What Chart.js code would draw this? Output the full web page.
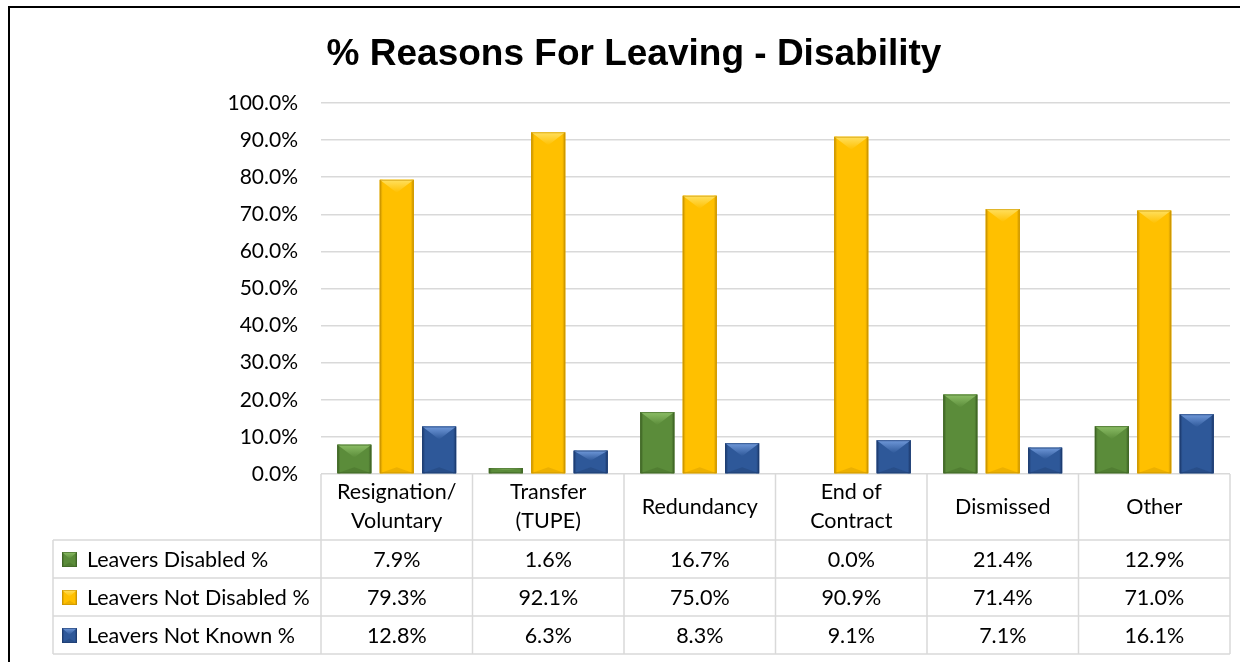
<!DOCTYPE html>
<html>
<head>
<meta charset="utf-8">
<script src="https://cdn.jsdelivr.net/npm/chart.js@4/dist/chart.umd.min.js"></script>
<style>
  html, body { margin: 0; padding: 0; background: #fff; }
  canvas { display: block; }
</style>
</head>
<body>
<canvas id="c" width="1240" height="662"></canvas>
<script>
// Reasons for leaving, split by disability status (percent of leavers)
const categories = [["Resignation/", "Voluntary"], ["Transfer", "(TUPE)"], ["Redundancy"], ["End of", "Contract"], ["Dismissed"], ["Other"]];
const seriesNames = ["Leavers Disabled %", "Leavers Not Disabled %", "Leavers Not Known %"];
const leaversDisabled = [7.9, 1.6, 16.7, 0.0, 21.4, 12.9];
const leaversNotDisabled = [79.3, 92.1, 75.0, 90.9, 71.4, 71.0];
const leaversNotKnown = [12.8, 6.3, 8.3, 9.1, 7.1, 16.1];
const yTickValues = [0, 10, 20, 30, 40, 50, 60, 70, 80, 90, 100];

// Colour sets per series: base, light bevel, dark edge
const palette = [
  { base: "#5B8C3A", light: "#8CBE66", dark: "#3E6325" },
  { base: "#FFC000", light: "#FFE060", dark: "#C89200" },
  { base: "#2E5899", light: "#7099DA", dark: "#1D3B6E" }
];

const FONT = "Lato, 'Open Sans', sans-serif";
const GRID = "#d9d9d9";

function bevelBox(ctx, left, top, w, h, col) {
  const right = left + w, bottom = top + h, cx = left + w / 2;
  ctx.save();
  ctx.fillStyle = col.base;
  ctx.fillRect(left, top, w, h);
  // darker side strips
  const s = Math.min(3, w / 6);
  let g = ctx.createLinearGradient(left, 0, left + s, 0);
  g.addColorStop(0, col.dark); g.addColorStop(1, col.base);
  ctx.fillStyle = g; ctx.fillRect(left, top, s, h);
  g = ctx.createLinearGradient(right - s, 0, right, 0);
  g.addColorStop(0, col.base); g.addColorStop(1, col.dark);
  ctx.fillStyle = g; ctx.fillRect(right - s, top, s, h);
  // bottom darker wedge
  const db = Math.min(h * 0.3, 6);
  ctx.globalAlpha = 0.35;
  ctx.fillStyle = col.dark;
  ctx.beginPath(); ctx.moveTo(left, bottom); ctx.lineTo(right, bottom); ctx.lineTo(cx, bottom - db); ctx.closePath(); ctx.fill();
  ctx.globalAlpha = 1;
  // lighter top wedge
  const d = Math.min(h * 0.45, 13);
  g = ctx.createLinearGradient(0, top, 0, top + d);
  g.addColorStop(0, col.light); g.addColorStop(1, col.base);
  ctx.fillStyle = g;
  ctx.beginPath(); ctx.moveTo(left, top); ctx.lineTo(right, top); ctx.lineTo(cx, top + d); ctx.closePath(); ctx.fill();
  // outline
  ctx.strokeStyle = col.dark; ctx.globalAlpha = 0.6; ctx.lineWidth = 1;
  ctx.strokeRect(left + 0.5, top + 0.5, w - 1, h - 1);
  ctx.restore();
}

const bevelPlugin = {
  id: "bevelBars",
  afterDatasetsDraw(chart) {
    const ctx = chart.ctx;
    chart.getSortedVisibleDatasetMetas().forEach(meta => {
      const col = palette[meta.index];
      meta.data.forEach(el => {
        const p = el.getProps(["x", "y", "base", "width"], true);
        const h = p.base - p.y;
        if (h < 1) return;
        bevelBox(ctx, p.x - p.width / 2, p.y, p.width, h, col);
      });
    });
  }
};

const frameAndTablePlugin = {
  id: "frameAndTable",
  afterDraw(chart) {
    const ctx = chart.ctx;
    const xs = chart.scales.x;
    const area = chart.chartArea;
    const n = categories.length;
    const colW = (area.right - area.left) / n;
    const top = area.bottom;
    const headerH = 66, rowH = 38;
    const legendLeft = 53;
    const rowsTop = top + headerH;
    const tableBottom = rowsTop + rowH * seriesNames.length;

    ctx.save();
    // title
    ctx.fillStyle = "#000";
    ctx.font = "bold 37px 'Liberation Sans', Arial, sans-serif";
    ctx.textAlign = "center";
    ctx.textBaseline = "alphabetic";
    ctx.fillText("% Reasons For Leaving - Disability", 634, 65);

    // table lines
    ctx.strokeStyle = GRID;
    ctx.lineWidth = 1.5;
    ctx.beginPath();
    for (let r = 0; r <= seriesNames.length; r++) {
      const y = rowsTop + r * rowH;
      ctx.moveTo(legendLeft, y); ctx.lineTo(area.right, y);
    }
    for (let i = 0; i <= n; i++) {
      const x = area.left + i * colW;
      ctx.moveTo(x, top); ctx.lineTo(x, tableBottom);
    }
    ctx.moveTo(legendLeft, rowsTop); ctx.lineTo(legendLeft, tableBottom);
    ctx.stroke();

    // header labels
    ctx.fillStyle = "#000";
    ctx.font = "21.5px " + FONT;
    ctx.textAlign = "center";
    ctx.textBaseline = "middle";
    categories.forEach((lines, i) => {
      const cx = xs.getPixelForValue(i);
      const lh = 29;
      const y0 = top + headerH / 2 - (lines.length - 1) * lh / 2;
      lines.forEach((t, k) => ctx.fillText(t, cx, y0 + k * lh));
    });

    // data rows
    const rows = [leaversDisabled, leaversNotDisabled, leaversNotKnown];
    rows.forEach((vals, r) => {
      const cy = rowsTop + r * rowH + rowH / 2;
      bevelBox(ctx, 62, cy - 7, 15, 15, palette[r]);
      ctx.fillStyle = "#000";
      ctx.textAlign = "left";
      ctx.fillText(seriesNames[r], 87, cy + 1);
      ctx.textAlign = "center";
      vals.forEach((v, i) => ctx.fillText(v.toFixed(1) + "%", xs.getPixelForValue(i), cy + 1));
    });

    // outer frame
    ctx.strokeStyle = "#000";
    ctx.lineWidth = 2;
    ctx.beginPath();
    ctx.moveTo(9, 700); ctx.lineTo(9, 7); ctx.lineTo(1260, 7);
    ctx.stroke();
    ctx.restore();
  }
};

new Chart(document.getElementById("c"), {
  type: "bar",
  data: {
    labels: categories.map(c => c.join(" ")),
    datasets: [leaversDisabled, leaversNotDisabled, leaversNotKnown].map((vals, i) => ({
      label: seriesNames[i],
      data: vals,
      backgroundColor: palette[i].base,
      borderWidth: 0,
      categoryPercentage: 0.84,
      barPercentage: 0.8
    }))
  },
  options: {
    responsive: false,
    animation: false,
    layout: { padding: { top: 103, bottom: 188, left: 0, right: 10 } },
    plugins: { legend: { display: false }, title: { display: false }, tooltip: { enabled: false } },
    scales: {
      x: { display: false },
      y: {
        min: 0, max: 100,
        afterBuildTicks: s => { s.ticks = yTickValues.map(v => ({ value: v })); },
        afterFit: s => { s.width = 321; },
        ticks: { callback: v => v.toFixed(1) + "%", color: "#000", font: { family: FONT, size: 21 }, padding: 23 },
        grid: { color: GRID, lineWidth: 1.5, drawTicks: false },
        border: { display: false }
      }
    }
  },
  plugins: [bevelPlugin, frameAndTablePlugin]
});
</script>
</body>
</html>
